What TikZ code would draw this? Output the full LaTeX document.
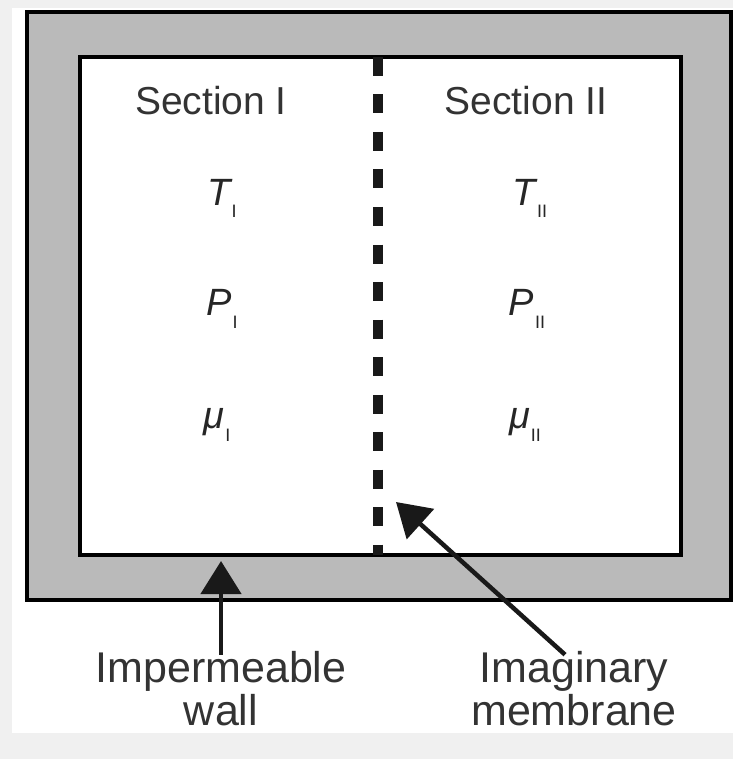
\documentclass[tikz,border=0pt]{standalone}
\usepackage{fontspec}
\setmainfont{Liberation Sans}
\usetikzlibrary{arrows.meta}
\newcommand{\sectsub}[1]{\kern1pt\raisebox{-13pt}{\fontsize{18}{18}\selectfont\upshape #1}}

\begin{document}
\begin{tikzpicture}[
		x=1pt, y=-1pt,
		wall/.style={draw=black, line width=4pt, fill=black!27},
		cell/.style={draw=black, line width=3.5pt, fill=white},
		membrane/.style={line width=10pt, draw=black!90, dash pattern=on 19pt off 18.5pt},
		title/.style={anchor=base, inner sep=0pt, font=\fontsize{39}{39}\selectfont, text=black!80},
		qty/.style={anchor=base, inner sep=0pt, font=\fontsize{38}{38}\selectfont\itshape, text=black!85},
		note/.style={anchor=base, inner sep=0pt, align=center, text=black!80,
			font=\fontsize{43}{43}\selectfont},
		pointer/.style={-{Triangle[length=33pt, width=40pt]}, line width=4.5pt, draw=black!90}
	]
	% page and frame
	\fill[black!6] (0,0) rectangle (733,759);
	\fill[white] (12,8) rectangle (733,733);
	\draw[wall] (27,12) rectangle (731,600);
	\draw[cell] (80,57) rectangle (681,555);
	\draw[membrane] (378,57) -- (378,555);

	% the two sections
	\node[title] (secI) at (211,115) {Section I};
	\node[title] (secII) at (526,115) {Section II};
	\node[qty] (TI) at (222,205) {T\sectsub{I}};
	\node[qty] (PI) at (222,315) {P\sectsub{I}};
	\node[qty] (muI) at (217,428) {μ\sectsub{I}};
	\node[qty] (TII) at (530,205) {T\sectsub{II}};
	\node[qty] (PII) at (527,315) {P\sectsub{II}};
	\node[qty] (muII) at (525,428) {μ\sectsub{II}};

	% labels and pointers
	\node[note] (wallnote) at (221,725) {Impermeable\\wall};
	\node[note] (memnote) at (574,725) {Imaginary\\membrane};
	\coordinate (walltip) at (221,561);
	\coordinate (memtip) at (396,502);
	\draw[pointer] ([yshift=-4pt]wallnote.north) -- (walltip);
	\draw[pointer] ([xshift=-9pt,yshift=-4pt]memnote.north) -- (memtip);
\end{tikzpicture}
\end{document}
